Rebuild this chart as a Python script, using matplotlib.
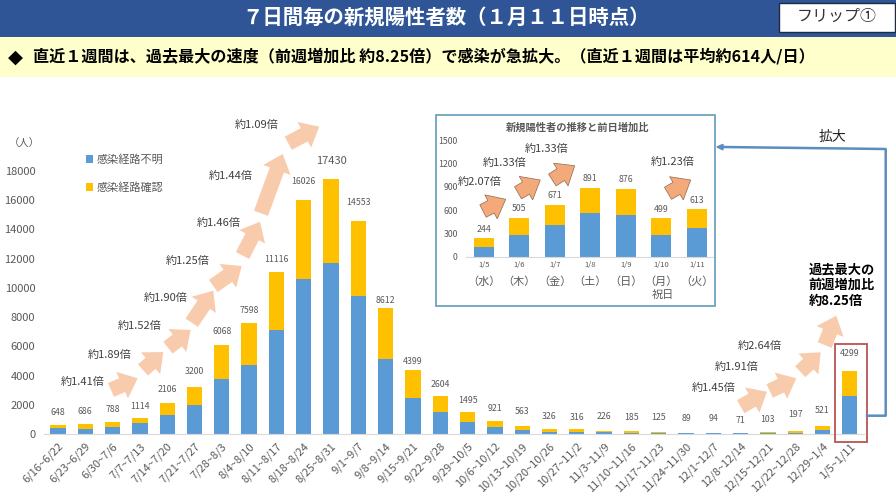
import matplotlib
matplotlib.use("Agg")
import matplotlib.pyplot as plt
from matplotlib.patches import FancyArrow, Rectangle

plt.rcParams["font.family"] = ["Noto Sans CJK JP", "DejaVu Sans"]

W, H = 896, 504

# datos semanales
semanas = ["6/16~6/22", "6/23~6/29", "6/30~7/6", "7/7~7/13", "7/14~7/20", "7/21~7/27",
           "7/28~8/3", "8/4~8/10", "8/11~8/17", "8/18~8/24", "8/25~8/31", "9/1~9/7",
           "9/8~9/14", "9/15~9/21", "9/22~9/28", "9/29~10/5", "10/6~10/12", "10/13~10/19",
           "10/20~10/26", "10/27~11/2", "11/3~11/9", "11/10~11/16", "11/17~11/23",
           "11/24~11/30", "12/1~12/7", "12/8~12/14", "12/15~12/21", "12/22~12/28",
           "12/29~1/4", "1/5~1/11"]
total = [648, 686, 788, 1114, 2106, 3200, 6068, 7598, 11116, 16026, 17430, 14553, 8612,
         4399, 2604, 1495, 921, 563, 326, 316, 226, 185, 125, 89, 94, 71, 103, 197, 521, 4299]
fumei = [390, 340, 480, 730, 1300, 2005, 3785, 4695, 7110, 10620, 11715, 9435, 5130,
         2485, 1527, 800, 455, 270, 160, 150, 110, 90, 60, 40, 45, 35, 50, 100, 250, 2600]
kakunin = [t - f for t, f in zip(total, fumei)]

# datos diarios
dias = ["1/5", "1/6", "1/7", "1/8", "1/9", "1/10", "1/11"]
youbi = ["（水）", "（木）", "（金）", "（土）", "（日）", "（月）", "（火）"]
total_dia = [244, 505, 671, 891, 876, 499, 613]
fumei_dia = [133, 287, 412, 562, 540, 287, 377]
kakunin_dia = [t - f for t, f in zip(total_dia, fumei_dia)]

# separacion de cada etiqueta sobre su barra (px)
sep = [12, 12, 13, 11, 14, 16, 14, 12, 12, 18, 18, 19, 8, 8, 11, 12, 12, 14, 13, 12, 14,
       14, 15, 14, 14, 12, 13, 17, 16, 18]

AZUL = "#5B9BD5"
NARANJA = "#FFC000"
GRIS = "#595959"


def ejes_px(x0, y0, x1, y1, **kw):
    return fig.add_axes([x0 / W, 1 - y1 / H, (x1 - x0) / W, (y1 - y0) / H], **kw)


fig = plt.figure(figsize=(W / 100, H / 100), dpi=100, facecolor="white")

# grafica principal
ax = ejes_px(44.3, 171, 863.5, 434, facecolor="none")
x = list(range(len(semanas)))
b1 = ax.bar(x, fumei, 0.56, color=AZUL)
b2 = ax.bar(x, kakunin, 0.56, bottom=fumei, color=NARANJA)
ax.set_xlim(-0.5, 29.5)
ax.set_ylim(0, 18000)
ax.set_yticks(range(0, 18001, 2000))
ax.set_xticks(x)
ax.set_xticklabels(semanas, rotation=45, ha="right", va="top", rotation_mode="anchor",
                   fontsize=8, color=GRIS)
ax.tick_params(axis="both", length=0)
ax.tick_params(axis="y", labelsize=8, labelcolor=GRIS, pad=6.5)
ax.tick_params(axis="x", pad=5)
for lado in ["top", "left", "right"]:
    ax.spines[lado].set_visible(False)
ax.spines["bottom"].set_color("#D9D9D9")

for i, v in enumerate(total):
    tam = 8 if v == 17430 else 6.3
    ax.annotate(str(v), (i, v), xytext=(0, sep[i]), textcoords="offset pixels",
                ha="center", va="center", fontsize=tam, color=GRIS)

ax.legend([b1, b2], ["感染経路不明", "感染経路確認"], loc="upper left",
          bbox_to_anchor=(85.5 / W, 1 - 154 / H), bbox_transform=fig.transFigure,
          frameon=False, fontsize=8, labelcolor=GRIS, handlelength=0.7, handleheight=0.7,
          handletextpad=0.3, labelspacing=1.6, borderpad=0, borderaxespad=0)

# grafica interior
ax2 = ejes_px(466, 140.3, 714.7, 257, facecolor="none")
xd = list(range(len(dias)))
ax2.bar(xd, fumei_dia, 0.56, color=AZUL)
ax2.bar(xd, kakunin_dia, 0.56, bottom=fumei_dia, color=NARANJA)
ax2.set_xlim(-0.5, 6.5)
ax2.set_ylim(0, 1500)
ax2.set_yticks(range(0, 1501, 300))
ax2.set_xticks(xd)
ax2.set_xticklabels(dias, fontsize=5.5, color=GRIS)
ax2.tick_params(axis="both", length=0)
ax2.tick_params(axis="y", labelsize=6.3, labelcolor=GRIS, pad=6)
ax2.tick_params(axis="x", pad=3)
for lado in ["top", "left", "right"]:
    ax2.spines[lado].set_visible(False)
ax2.spines["bottom"].set_color("#D9D9D9")
for i, v in enumerate(total_dia):
    ax2.annotate(str(v), (i, v), xytext=(0, 9), textcoords="offset pixels",
                 ha="center", va="center", fontsize=6.3, color=GRIS)
    ax2.annotate(youbi[i], (i, 0), xytext=(0, -25), textcoords="offset pixels",
                 ha="center", va="center", fontsize=8, color=GRIS, annotation_clip=False)
ax2.annotate("祝日", (5, 0), xytext=(1, -38), textcoords="offset pixels",
             ha="center", va="center", fontsize=8, color=GRIS, annotation_clip=False)

# capa de adornos en pixeles
ov = ejes_px(0, 0, W, H, facecolor="none", zorder=5)
ov.set_xlim(0, W)
ov.set_ylim(H, 0)
ov.axis("off")

ov.add_patch(Rectangle((0, 0), W, 36.5, fc="#2F5597", ec="none"))
ov.add_patch(Rectangle((0, 36.5), W, 40, fc="#FFFFCC", ec="none"))
ov.add_patch(Rectangle((779, 3), 116, 28.5, fc="white", ec="#1F2A44", lw=1))
ov.text(837, 16, "フリップ①", ha="center", va="center", fontsize=11.5, color="#333333")
ov.text(446, 17.5, "７日間毎の新規陽性者数（１月１１日時点）", ha="center", va="center",
        fontsize=14.7, fontweight="bold", color="white")
ov.text(15, 57, "◆", ha="center", va="center", fontsize=14, color="black",
        family=["DejaVu Sans"])
ov.text(33, 56.5, "直近１週間は、過去最大の速度（前週増加比 約8.25倍）で感染が急拡大。（直近１週間は平均約614人/日）",
        ha="left", va="center", fontsize=11.6, fontweight="bold", color="black")
ov.text(24.5, 144, "（人）", ha="center", va="center", fontsize=7.5, color=GRIS)

# marco del recuadro y conector
ov.add_patch(Rectangle((436, 114.7), 278.7, 191.3, fc="none", ec="#6FA3BF", lw=1.3))
ov.text(578, 128, "新規陽性者の推移と前日増加比", ha="center", va="center", fontsize=7.4,
        fontweight="bold", color=GRIS)
ov.add_patch(Rectangle((834.7, 344), 32.3, 98, fc="none", ec="#B85450", lw=1.3))
ov.plot([867, 885.7, 885.7, 722], [415.7, 415.7, 149, 147], color="#5B8DBE", lw=1.8)
ov.add_patch(FancyArrow(724, 147.1, -7, -0.1, width=0.5, head_width=5.5, head_length=6,
                        length_includes_head=True, color="#5B8DBE"))
ov.text(832, 136.7, "拡大", ha="center", va="center", fontsize=10, color="#222222")
for k, linea in enumerate(["過去最大の", "前週増加比", "約8.25倍"]):
    ov.text(808.7, [269, 285, 300.7][k], linea, ha="left", va="center", fontsize=9.5,
            fontweight="bold", color="black")

# flechas de crecimiento
flechas = [("約1.41倍", 83, 382, 111, 390, 137.7, 378.3),
           ("約1.89倍", 110, 355, 143, 370, 163.3, 352),
           ("約1.52倍", 140, 326.3, 168, 347.7, 190.7, 330),
           ("約1.90倍", 166, 298, 191.7, 322.7, 213.3, 290.7),
           ("約1.25倍", 188, 261, 213.3, 286, 241.7, 266),
           ("約1.46倍", 219, 223, 242.5, 255.5, 260, 221.7),
           ("約1.44倍", 230.7, 176, 261, 213.3, 282.7, 154),
           ("約1.09倍", 256.7, 124.7, 288.3, 143.3, 319.3, 126.7),
           ("約1.45倍", 713.7, 388, 740.7, 406.7, 767, 391.7),
           ("約1.91倍", 736.7, 366.7, 769.7, 391, 796.3, 378.3),
           ("約2.64倍", 759.7, 346.3, 800.3, 371.7, 820.7, 352.3),
           (None, 0, 0, 824.7, 345, 836.3, 315.7)]
for txt, tx, ty, x0, y0, x1, y1 in flechas:
    ov.add_patch(FancyArrow(x0, y0, x1 - x0, y1 - y0, width=15, head_width=29, head_length=17,
                            length_includes_head=True, fc="#F8CBAD", ec="none"))
    if txt:
        ov.text(tx, ty, txt, ha="center", va="center", fontsize=8, color="#404040")

flechas_dia = [("約2.07倍", 479.7, 182.3, 483, 211, 505.7, 199.3),
               ("約1.33倍", 504.7, 163.3, 518, 192.7, 540.3, 180),
               ("約1.33倍", 547, 149, 552.3, 180, 574.7, 165.7),
               ("約1.23倍", 673, 162, 668, 193.3, 690.7, 180)]
for txt, tx, ty, x0, y0, x1, y1 in flechas_dia:
    ov.add_patch(FancyArrow(x0, y0, x1 - x0, y1 - y0, width=14, head_width=27, head_length=16.5,
                            length_includes_head=True, fc="#F4A97A", ec="#8C6A50", lw=0.5))
    ov.text(tx, ty, txt, ha="center", va="center", fontsize=8, color="#404040")

fig.savefig("out.png", dpi=100)
